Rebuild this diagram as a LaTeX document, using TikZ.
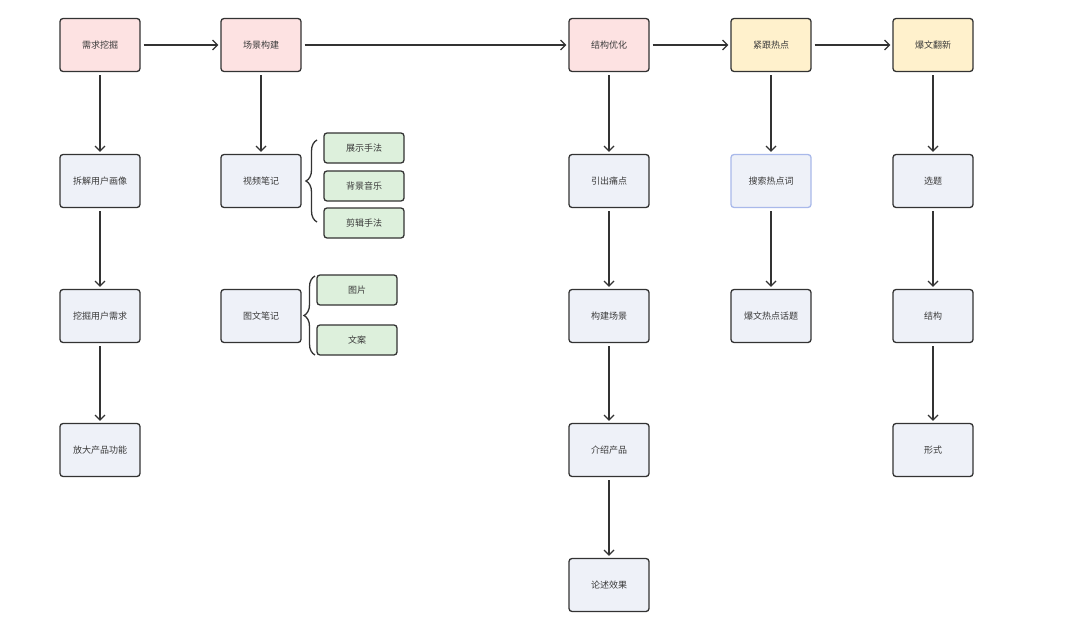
\documentclass[tikz,border=0pt]{standalone}
\usepackage{fontspec}
\setmainfont{Noto Sans CJK SC}
\usetikzlibrary{arrows.meta, decorations.pathreplacing}

\definecolor{pinkfill}{HTML}{FDE2E2}
\definecolor{yellowfill}{HTML}{FFF1CC}
\definecolor{bluefill}{HTML}{EEF1F8}
\definecolor{greenfill}{HTML}{DDF0DC}
\definecolor{edgegray}{HTML}{333333}
\definecolor{textgray}{HTML}{3A3A3A}
\definecolor{softblue}{HTML}{A9B9EA}

\tikzset{
    box/.style={draw=edgegray, line width=1.3pt, rounded corners=3pt, minimum width=80pt, minimum height=53pt,
        inner sep=0pt, text=textgray, font=\fontsize{9}{10}\selectfont},
    headpink/.style={box, fill=pinkfill},
    headyellow/.style={box, fill=yellowfill},
    stepbox/.style={box, fill=bluefill},
    leafbox/.style={box, fill=greenfill, minimum height=30pt},
    flow/.style={-{Straight Barb[length=5pt, width=10pt, line width=1.2pt]}, line width=1.3pt, draw=edgegray,
        shorten <=3pt, shorten >=2pt},
    curly/.style={decorate, decoration={brace, amplitude=11pt}, line width=1.3pt, draw=edgegray}
}

\begin{document}
\begin{tikzpicture}[x=1pt, y=-1pt]
    \useasboundingbox (0,0) rectangle (1080,634);

    % Main line
    \node[headpink]   (mining)  at (100,45) {需求挖掘};
    \node[headpink]   (scene)   at (261,45) {场景构建};
    \node[headpink]   (struct)  at (609,45) {结构优化};
    \node[headyellow] (hot)     at (771,45) {紧跟热点};
    \node[headyellow] (renew)   at (933,45) {爆文翻新};

    \draw[flow] (mining) -- (scene);
    \draw[flow] (scene) -- (struct);
    \draw[flow] (struct) -- (hot);
    \draw[flow] (hot) -- (renew);

    % Column 1
    \node[stepbox] (persona) at (100,181) {拆解用户画像};
    \node[stepbox] (needs)   at (100,316) {挖掘用户需求};
    \node[stepbox] (amplify) at (100,450) {放大产品功能};
    \draw[flow] (mining) -- (persona);
    \draw[flow] (persona) -- (needs);
    \draw[flow] (needs) -- (amplify);

    % Column 2
    \node[stepbox] (video)   at (261,181) {视频笔记};
    \node[stepbox] (imgtext) at (261,316) {图文笔记};
    \draw[flow] (scene) -- (video);

    \node[leafbox] (show)  at (364,148) {展示手法};
    \node[leafbox] (music) at (364,186) {背景音乐};
    \node[leafbox] (edit)  at (364,223) {剪辑手法};
    \node[leafbox] (pic)   at (357,290) {图片};
    \node[leafbox] (copy)  at (357,340) {文案};

    \coordinate (vidtop) at (317,140);
    \coordinate (vidbot) at (317,222);
    \coordinate (imgtop) at (315,276);
    \coordinate (imgbot) at (315,355);
    \draw[curly] (vidbot) -- (vidtop);
    \draw[curly] (imgbot) -- (imgtop);

    % Column 3
    \node[stepbox] (pain)    at (609,181) {引出痛点};
    \node[stepbox] (build)   at (609,316) {构建场景};
    \node[stepbox] (intro)   at (609,450) {介绍产品};
    \node[stepbox] (effect)  at (609,585) {论述效果};
    \draw[flow] (struct) -- (pain);
    \draw[flow] (pain) -- (build);
    \draw[flow] (build) -- (intro);
    \draw[flow] (intro) -- (effect);

    % Column 4
    \node[stepbox, draw=softblue] (search) at (771,181) {搜索热点词};
    \node[stepbox] (topic)  at (771,316) {爆文热点话题};
    \draw[flow] (hot) -- (search);
    \draw[flow] (search) -- (topic);

    % Column 5
    \node[stepbox] (theme)  at (933,181) {选题};
    \node[stepbox] (frame)  at (933,316) {结构};
    \node[stepbox] (form)   at (933,450) {形式};
    \draw[flow] (renew) -- (theme);
    \draw[flow] (theme) -- (frame);
    \draw[flow] (frame) -- (form);
\end{tikzpicture}
\end{document}
